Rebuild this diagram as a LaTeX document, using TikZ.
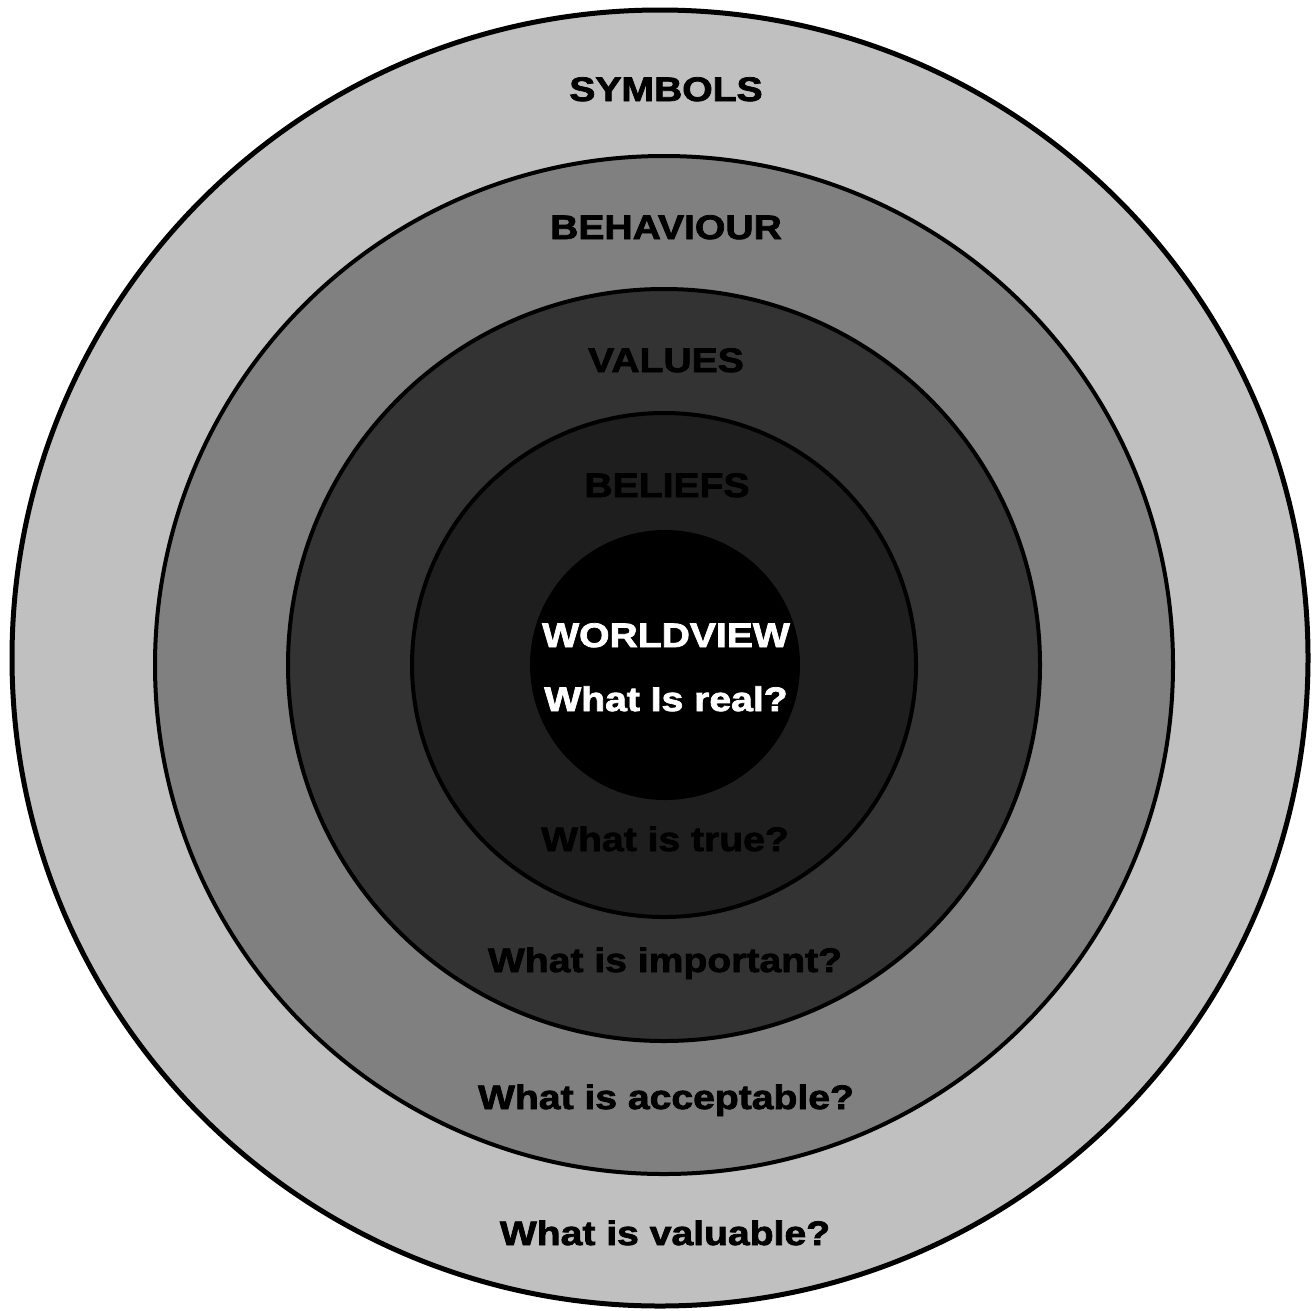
\documentclass[tikz,border=0pt]{standalone}
\usepackage{fontspec}
\newfontfamily\lblfont{Liberation Sans}[FakeStretch=1.15,FakeBold=2.2]
\begin{document}
\begin{tikzpicture}[x=1pt,y=-1pt,
  ring/.style={circle,draw=black,inner sep=0pt,outer sep=0pt,line width=4pt},
  lbl/.style={anchor=base,inner sep=0pt,font=\lblfont\bfseries\fontsize{34}{37}\selectfont,text=black}]
\useasboundingbox (0,0) rectangle (1316,1310);
\fill[white] (0,0) rectangle (1316,1310);
\node[ring,line width=5pt,fill={rgb,255:red,192;green,192;blue,192},minimum size=1296pt] (symbols) at (660,658) {};
\node[ring,fill={rgb,255:red,128;green,128;blue,128},minimum size=1018pt] (behaviour) at (664,665) {};
\node[ring,fill={rgb,255:red,51;green,51;blue,51},minimum size=752pt] (values) at (664,665) {};
\node[ring,fill={rgb,255:red,30;green,30;blue,30},minimum size=504pt] (beliefs) at (664,665) {};
\node[circle,fill=black,draw=none,inner sep=0pt,minimum size=270pt] (worldview) at (665,665) {};
\node[lbl] (t1) at (666,101) {SYMBOLS};
\node[lbl] (t2) at (666,239) {BEHAVIOUR};
\node[lbl] (t3) at (666,372) {VALUES};
\node[lbl] (t4) at (667,497) {BELIEFS};
\node[lbl,text=white] (t5) at (666,647) {WORLDVIEW};
\node[lbl,text=white] (t6) at (666,711) {What Is real?};
\node[lbl] (t7) at (665,851) {What is true?};
\node[lbl] (t8) at (665,972) {What is important?};
\node[lbl] (t9) at (666,1109) {What is acceptable?};
\node[lbl] (t10) at (665,1245) {What is valuable?};
\end{tikzpicture}
\end{document}
